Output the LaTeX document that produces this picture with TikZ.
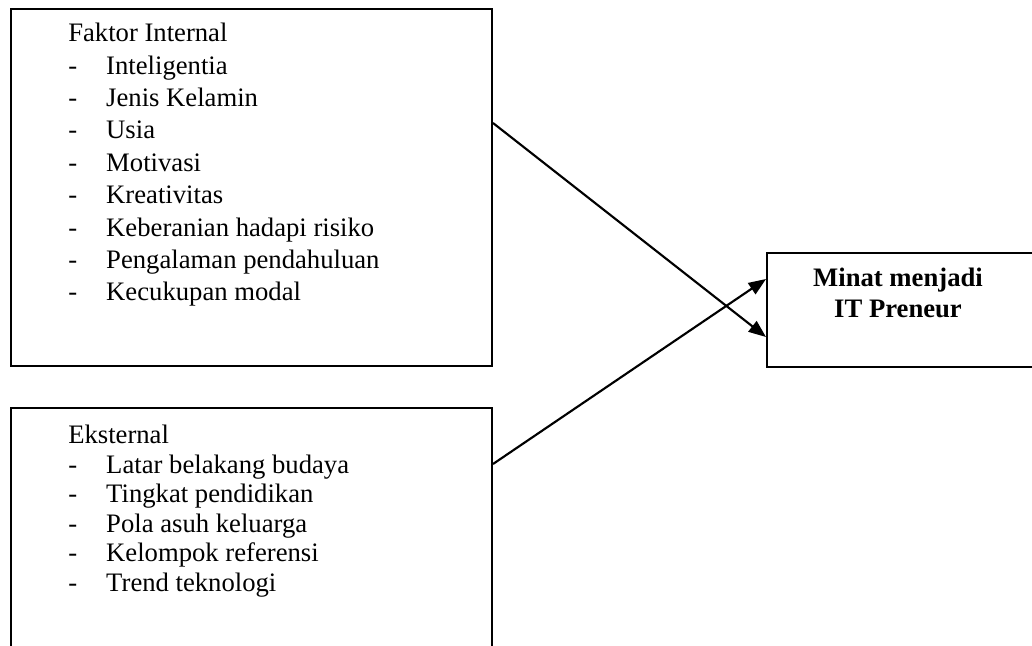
\documentclass[tikz,border=0pt]{standalone}
\usepackage{fontspec}
\setmainfont{Liberation Serif}
\usetikzlibrary{arrows.meta}
\begin{document}
\begin{tikzpicture}[x=0.75pt,y=-0.75pt,
  box/.style={draw, line width=1.5pt, rectangle, inner sep=0pt, anchor=north west},
  lst/.style={anchor=north west, inner sep=0pt, align=left},
  ttl/.style={anchor=north, inner sep=0pt, align=center, font=\fontsize{20}{23.25}\selectfont\bfseries},
  conn/.style={line width=1.6pt, -{Triangle[length=13pt,width=10pt]}}]
\useasboundingbox (0,0) rectangle (1032,646);
\clip (0,0) rectangle (1032,646);
\newcommand{\itm}[1]{\makebox[28.5pt][l]{-}#1}
% boxes
\node[box, minimum width=360.75pt, minimum height=267.75pt] (internal) at (10,8) {};
\node[box, minimum width=360.75pt, minimum height=219.75pt] (external) at (10,407) {};
\node[box, minimum width=235.5pt, minimum height=85.5pt] (target) at (766,252) {};
% texts
\node[lst, font=\fontsize{20}{24.3}\selectfont] (internaltext) at (68,23) {Faktor Internal\\
\itm{Inteligentia}\\
\itm{Jenis Kelamin}\\
\itm{Usia}\\
\itm{Motivasi}\\
\itm{Kreativitas}\\
\itm{Keberanian hadapi risiko}\\
\itm{Pengalaman pendahuluan}\\
\itm{Kecukupan modal}};
\node[lst, font=\fontsize{20}{22.1}\selectfont] (externaltext) at (68,425) {Eksternal\\
\itm{Latar belakang budaya}\\
\itm{Tingkat pendidikan}\\
\itm{Pola asuh keluarga}\\
\itm{Kelompok referensi}\\
\itm{Trend teknologi}};
\node[ttl] (targettext) at (898,268) {Minat menjadi\\IT Preneur};
% connectors
\coordinate (s1) at (0,123);
\coordinate (e1) at (0,337);
\coordinate (s2) at (0,464);
\coordinate (e2) at (0,279);
\draw[conn] (internal.east |- s1) -- (target.west |- e1);
\draw[conn] (external.east |- s2) -- (target.west |- e2);
\end{tikzpicture}
\end{document}
